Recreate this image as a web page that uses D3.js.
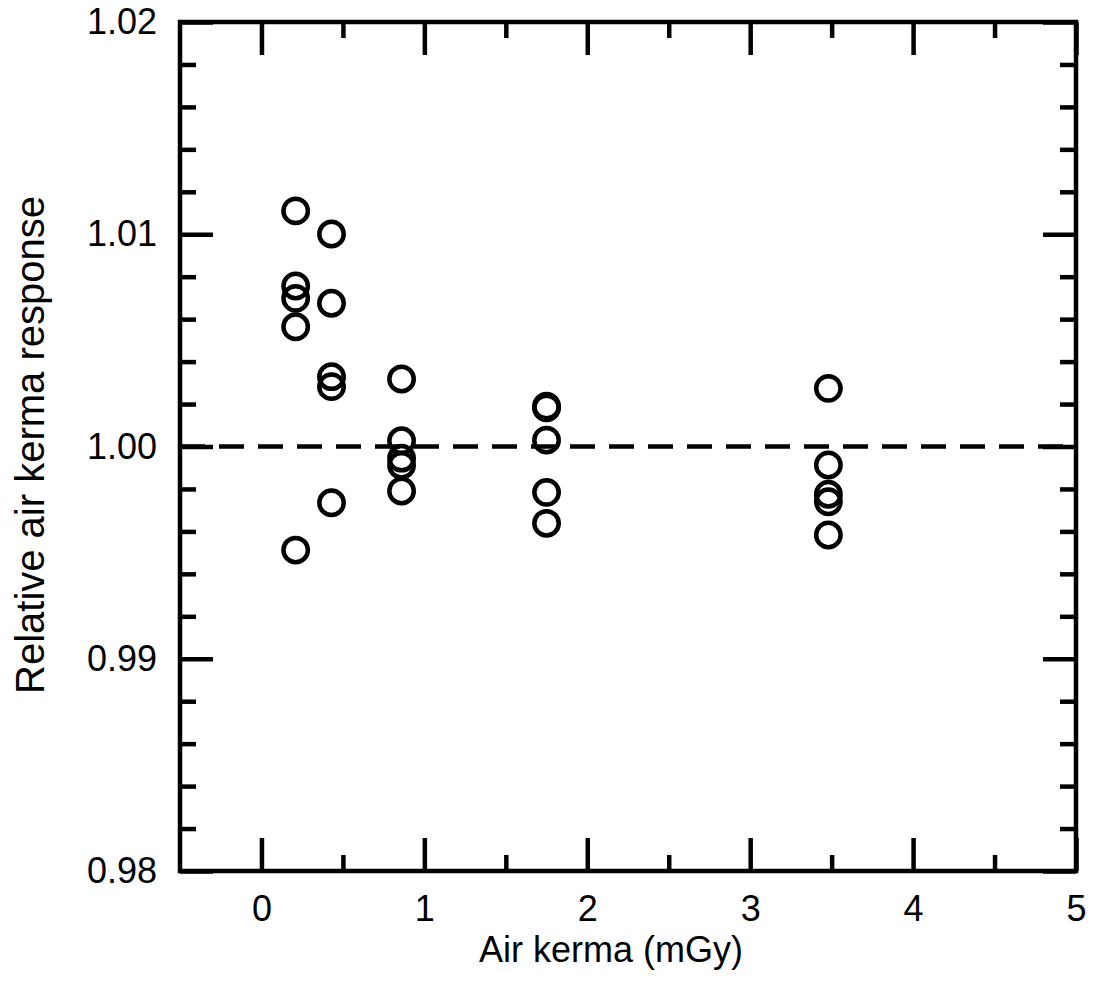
<!DOCTYPE html>
<html>
<head>
<meta charset="utf-8">
<script src="https://cdn.jsdelivr.net/npm/d3@7"></script>
<style>
  body { margin: 0; background: #fff; }
  .axis text { font-family: "Liberation Sans", Arial, Helvetica, sans-serif; font-size: 36px; fill: #000; }
  .axis line { stroke: #000; stroke-width: 4.5px; }
  .axis path { display: none; }
  .label { font-family: "Liberation Sans", Arial, Helvetica, sans-serif; font-size: 36px; fill: #000; }
</style>
</head>
<body>
<div id="chart"></div>
<script>
var w = 1094, h = 994;
var plotLeft = 180, plotRight = 1076, plotTop = 22, plotBottom = 871;

// air kerma (mGy) for each group of readings
var kerma = [0.21, 0.43, 0.86, 1.75, 3.48];
// relative response readings per kerma value
var response = [
    [1.0111, 1.00756, 1.00698, 1.00564, 0.99512],
    [1.01001, 1.00675, 1.00329, 1.00282, 0.99735],
    [1.00318, 1.00027, 0.99945, 0.99912, 0.99790],
    [1.00190, 1.00182, 1.00030, 0.99784, 0.99638],
    [1.00274, 0.99913, 0.99775, 0.99740, 0.99583]
];
var xMajor = [0, 1, 2, 3, 4, 5];
var xMinor = [0.5, 1.5, 2.5, 3.5, 4.5];
var yMajor = [0.98, 0.99, 1.00, 1.01, 1.02];
var yMinor = [0.982, 0.984, 0.986, 0.988, 0.992, 0.994, 0.996, 0.998,
              1.002, 1.004, 1.006, 1.008, 1.012, 1.014, 1.016, 1.018];
var reference = 1.00;

var svg = d3.select("#chart")
    .append("svg")
    .attr("width", w)
    .attr("height", h);

var x = d3.scaleLinear().domain([-0.5, 5]).range([plotLeft, plotRight]);
var y = d3.scaleLinear().domain([0.98, 1.02]).range([plotBottom, plotTop]);

function addAxis(axis, tx, ty) {
    svg.append("g").attr("class", "axis")
        .attr("transform", "translate(" + tx + "," + ty + ")")
        .call(axis);
}

// bottom axis
addAxis(d3.axisBottom(x).tickValues(xMajor).tickSize(-33).tickPadding(24)
    .tickFormat(d3.format("d")), 0, plotBottom);
addAxis(d3.axisBottom(x).tickValues(xMinor).tickSize(-16).tickFormat(""), 0, plotBottom);
// top axis
addAxis(d3.axisTop(x).tickValues(xMajor).tickSize(-33).tickFormat(""), 0, plotTop);
addAxis(d3.axisTop(x).tickValues(xMinor).tickSize(-16).tickFormat(""), 0, plotTop);
// left axis
addAxis(d3.axisLeft(y).tickValues(yMajor).tickSize(-33).tickPadding(23)
    .tickFormat(d3.format(".2f")), plotLeft, 0);
addAxis(d3.axisLeft(y).tickValues(yMinor).tickSize(-16).tickFormat(""), plotLeft, 0);
// right axis
addAxis(d3.axisRight(y).tickValues(yMajor).tickSize(-33).tickFormat(""), plotRight, 0);
addAxis(d3.axisRight(y).tickValues(yMinor).tickSize(-16).tickFormat(""), plotRight, 0);

// frame
svg.append("rect")
    .attr("x", plotLeft)
    .attr("y", plotTop)
    .attr("width", plotRight - plotLeft)
    .attr("height", plotBottom - plotTop)
    .attr("fill", "none")
    .attr("stroke", "#000")
    .attr("stroke-width", 4.5);

// reference line
svg.append("line")
    .attr("x1", plotLeft).attr("x2", plotRight)
    .attr("y1", y(reference)).attr("y2", y(reference))
    .attr("stroke", "#000")
    .attr("stroke-width", 4.5)
    .attr("stroke-dasharray", "25,14");

// points
var points = [];
kerma.forEach(function(k, i) {
    response[i].forEach(function(r) {
        points.push({k: k, r: r});
    });
});

svg.selectAll(".pt")
    .data(points)
    .enter()
    .append("circle")
    .attr("class", "pt")
    .attr("cx", function(d) { return x(d.k); })
    .attr("cy", function(d) { return y(d.r); })
    .attr("r", 12.2)
    .attr("fill", "none")
    .attr("stroke", "#000")
    .attr("stroke-width", 4.5);

// axis titles
svg.append("text")
    .attr("class", "label")
    .attr("x", 611)
    .attr("y", 962)
    .attr("text-anchor", "middle")
    .text("Air kerma (mGy)");

svg.append("text")
    .attr("class", "label")
    .style("font-size", "40px")
    .attr("transform", "translate(44,445) rotate(-90)")
    .attr("text-anchor", "middle")
    .text("Relative air kerma response");
</script>
</body>
</html>
